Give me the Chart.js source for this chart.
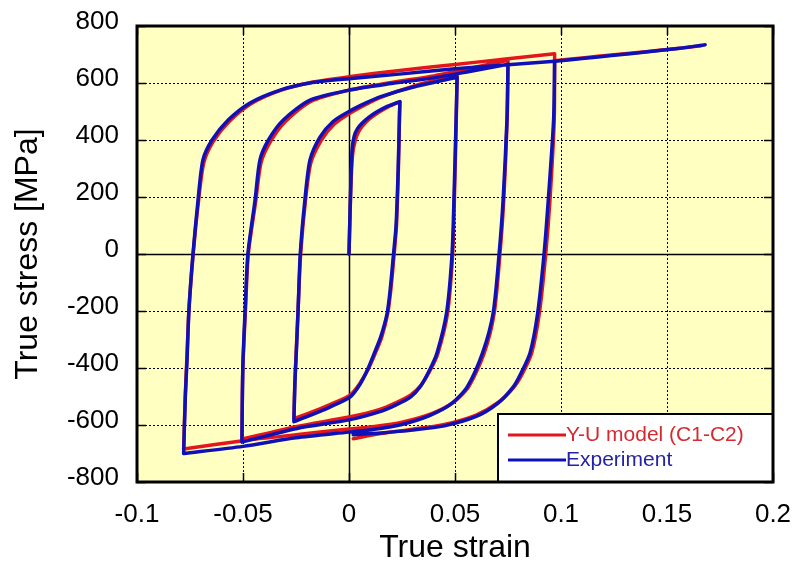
<!DOCTYPE html>
<html><head><meta charset="utf-8">
<script src="https://cdn.jsdelivr.net/npm/chart.js@4/dist/chart.umd.min.js"></script>
<style>html,body{margin:0;padding:0;background:#fff;}</style>
</head><body>
<canvas id="c" width="796" height="566" style="width:796px;height:566px;display:block"></canvas>
<script>
// ---- tick labels & names ----
const xTickLabels = ['-0.1','-0.05','0','0.05','0.1','0.15','0.2'];
const yTickLabels = ['-800','-600','-400','-200','0','200','400','600','800'];
const seriesNames = ['Y-U model (C1-C2)', 'Experiment'];
const xTitle = 'True strain';
const yTitle = 'True stress [MPa]';

// ---- Experiment: [true strain, true stress MPa]; reversal points listed twice (sharp corners) ----
const experimentCycle = [
  [0,0],[0.0005,150],[0.001,280],[0.0015,370],[0.0025,415],[0.004,440],[0.006,458],[0.009,478],[0.013,498],[0.018,518],[0.024,535],[0.024,535],
  [0.0238,480],[0.0232,300],[0.0222,100],[0.021,0],[0.0195,-120],[0.018,-207],[0.015,-290],[0.012,-347],[0.0085,-410],[0.005,-460],[0.0005,-502],[-0.009,-537],[-0.018,-565],[-0.026,-588],[-0.026,-588],
  [-0.0255,-450],[-0.025,-370],[-0.024,-196],[-0.023,0],[-0.0208,190],[-0.0184,330],[-0.0137,410],[-0.0075,465],[0.0,500],[0.008,530],[0.015,552],[0.03,585],[0.051,620],[0.051,620],
  [0.0505,470],[0.0495,190],[0.0486,0],[0.046,-207],[0.0415,-347],[0.038,-407],[0.0335,-467],[0.029,-502],[0.022,-530],[0.0146,-553],[0.0,-582],[-0.0245,-612],[-0.0505,-660],[-0.0505,-660],
  [-0.0503,-500],[-0.050,-372],[-0.049,-196],[-0.0477,0],[-0.0443,190],[-0.042,330],[-0.038,400],[-0.031,470],[-0.0184,540],[0.0,575],[0.02,598],[0.04,618],[0.055,638],[0.075,666],[0.075,666],
  [0.0745,470],[0.0727,190],[0.0708,0],[0.068,-207],[0.063,-347],[0.0557,-467],[0.048,-527],[0.038,-567],[0.025,-598],[0.012,-615],[0.0,-625],[-0.025,-645],[-0.05,-675],[-0.078,-700],[-0.078,-700],
  [-0.0772,-500],[-0.0764,-372],[-0.0755,-196],[-0.0736,0],[-0.0712,190],[-0.0689,330],[-0.0646,400],[-0.057,470],[-0.0467,530],[-0.0325,575],[-0.0184,600],[0.0,615],[0.025,632],[0.05,650],[0.075,664],[0.097,676],[0.097,676],
  [0.0965,470],[0.094,190],[0.092,0],[0.089,-207],[0.0854,-347],[0.081,-420],[0.0774,-467],[0.070,-525],[0.06,-570],[0.045,-603],[0.03,-618],[0.015,-628],[0.002,-634]
];
const experimentTail = [[0.097,676],[0.11,686],[0.125,697],[0.14,709],[0.155,721],[0.168,734]];

// ---- Y-U model (C1-C2) ----
const modelCycle = [
  [0,0],[0.0005,140],[0.001,260],[0.0017,350],[0.003,400],[0.0045,428],[0.0065,450],[0.0095,473],[0.0135,495],[0.0185,516],[0.024,534],[0.024,534],
  [0.0238,480],[0.0233,300],[0.0224,100],[0.0213,0],[0.0198,-120],[0.0183,-207],[0.0155,-290],[0.0125,-347],[0.009,-405],[0.005,-455],[0.0005,-495],[-0.009,-528],[-0.018,-556],[-0.026,-578],[-0.026,-578],
  [-0.0255,-440],[-0.025,-360],[-0.024,-190],[-0.0228,0],[-0.0205,190],[-0.018,320],[-0.013,400],[-0.007,455],[0.0,492],[0.008,525],[0.015,550],[0.03,588],[0.051,630],[0.051,630],
  [0.0506,470],[0.0497,190],[0.0489,0],[0.0465,-207],[0.042,-347],[0.0385,-405],[0.034,-460],[0.029,-495],[0.022,-522],[0.0146,-545],[0.0,-572],[-0.0245,-605],[-0.0505,-650],[-0.0505,-650],
  [-0.0503,-490],[-0.0499,-365],[-0.0488,-190],[-0.0475,0],[-0.044,185],[-0.0415,320],[-0.037,395],[-0.03,465],[-0.018,535],[0.0,575],[0.02,602],[0.04,625],[0.055,648],[0.075,680],[0.075,680],
  [0.0746,470],[0.073,190],[0.0712,0],[0.0685,-207],[0.0638,-347],[0.0565,-465],[0.049,-522],[0.039,-560],[0.025,-590],[0.012,-605],[0.0,-614],[-0.025,-634],[-0.05,-655],[-0.078,-684],[-0.078,-684],
  [-0.0772,-490],[-0.0765,-372],[-0.0755,-196],[-0.0735,0],[-0.071,185],[-0.0685,320],[-0.064,395],[-0.0565,465],[-0.046,528],[-0.032,575],[-0.018,602],[0.0,622],[0.025,645],[0.05,665],[0.075,685],[0.097,703],[0.097,703],
  [0.0968,470],[0.0948,190],[0.0928,0],[0.0898,-207],[0.0862,-347],[0.0818,-420],[0.078,-465],[0.0705,-520],[0.06,-565],[0.045,-598],[0.03,-615],[0.015,-630],[0.002,-648]
];
const modelTail = [[0.097,678],[0.11,688],[0.125,699],[0.14,710],[0.155,721],[0.166,731]];

const RED = '#E3161C', BLUE = '#1010B8';
const toXY = arr => arr.map(p => ({x: p[0], y: p[1]}));
const FONT = '"Liberation Sans", Arial, sans-serif';

function lineDs(data, color, order) {
  return {data: toXY(data), borderColor: color, backgroundColor: color, borderWidth: 3.5,
    showLine: true, pointRadius: 0, tension: 0.25, order: order, clip: false,
    borderJoinStyle: 'round', borderCapStyle: 'round'};
}

const framePlugin = {
  id: 'frame',
  beforeDraw(chart) {
    const {ctx, chartArea: a} = chart;
    ctx.save();
    ctx.fillStyle = '#FFFFC2';
    ctx.fillRect(a.left, a.top, a.right - a.left, a.bottom - a.top);
    ctx.restore();
  },
  beforeDatasetsDraw(chart) {
    const {ctx, chartArea: a, scales: {x, y}} = chart;
    ctx.save();
    ctx.strokeStyle = '#000';
    ctx.lineWidth = 1.5;
    const x0 = Math.round(x.getPixelForValue(0)) + 0.5;
    const y0 = Math.round(y.getPixelForValue(0)) + 0.5;
    ctx.beginPath();
    ctx.moveTo(x0, a.top); ctx.lineTo(x0, a.bottom);
    ctx.moveTo(a.left, y0); ctx.lineTo(a.right, y0);
    ctx.stroke();
    ctx.beginPath();
    y.ticks.forEach(t => {
      const py = Math.round(y.getPixelForValue(t.value)) + 0.5;
      ctx.moveTo(a.left, py); ctx.lineTo(a.left + 9, py);
      ctx.moveTo(a.right, py); ctx.lineTo(a.right - 9, py);
    });
    x.ticks.forEach(t => {
      const px = Math.round(x.getPixelForValue(t.value)) + 0.5;
      ctx.moveTo(px, a.top); ctx.lineTo(px, a.top + 9);
      ctx.moveTo(px, a.bottom); ctx.lineTo(px, a.bottom - 9);
    });
    ctx.stroke();
    ctx.restore();
  },
  afterDatasetsDraw(chart) {
    const {ctx, chartArea: a} = chart;
    ctx.save();
    const lx = a.right - 275, ly = a.bottom - 68;
    ctx.fillStyle = '#fff';
    ctx.fillRect(lx, ly, a.right - lx, a.bottom - ly);
    ctx.strokeStyle = '#000';
    ctx.lineWidth = 2;
    ctx.strokeRect(lx, ly, a.right - lx, a.bottom - ly);
    const rows = [[seriesNames[0], RED, '#D42A30', 21], [seriesNames[1], BLUE, '#2323A6', 46]];
    rows.forEach(([txt, lc, tc, dy]) => {
      ctx.strokeStyle = lc; ctx.lineWidth = 3;
      ctx.beginPath(); ctx.moveTo(lx + 10, ly + dy); ctx.lineTo(lx + 68, ly + dy); ctx.stroke();
      ctx.fillStyle = tc;
      ctx.font = '21px ' + FONT;
      ctx.textBaseline = 'middle'; ctx.textAlign = 'left';
      ctx.fillText(txt, lx + 68, ly + dy);
    });
    ctx.strokeStyle = '#000';
    ctx.lineWidth = 3;
    ctx.strokeRect(a.left, a.top, a.right - a.left, a.bottom - a.top);
    ctx.restore();
  }
};

new Chart(document.getElementById('c'), {
  type: 'scatter',
  data: {
    datasets: [
      Object.assign(lineDs(experimentCycle, BLUE, 0), {label: seriesNames[1]}),
      Object.assign(lineDs(experimentTail, BLUE, 1), {label: seriesNames[1]}),
      Object.assign(lineDs(modelCycle, RED, 2), {label: seriesNames[0]}),
      Object.assign(lineDs(modelTail, RED, 3), {label: seriesNames[0]})
    ]
  },
  options: {
    responsive: false, animation: false, devicePixelRatio: 1,
    layout: {padding: {top: 26, right: 23, left: 0, bottom: 0}},
    plugins: {legend: {display: false}, tooltip: {enabled: false}},
    scales: {
      x: {
        type: 'linear', min: -0.1, max: 0.2,
        afterBuildTicks: s => { s.ticks = xTickLabels.map(t => ({value: parseFloat(t)})); },
        afterFit: s => { s.height = 84; s.paddingLeft = 0; s.paddingRight = 0; },
        ticks: {callback: (v, i) => xTickLabels[i], color: '#000', padding: 17,
          font: {family: FONT, size: 26}, maxRotation: 0, autoSkip: false},
        grid: {color: '#000', lineWidth: 1, drawTicks: false},
        border: {display: false, dash: [2, 2]},
        title: {display: true, text: xTitle, color: '#000', font: {family: FONT, size: 32, lineHeight: 1.1}, padding: {top: 0, bottom: 0}}
      },
      y: {
        type: 'linear', min: -800, max: 800,
        afterBuildTicks: s => { s.ticks = yTickLabels.map(t => ({value: parseFloat(t)})); },
        afterFit: s => { s.width = 137; s.paddingTop = 0; s.paddingBottom = 0; },
        ticks: {callback: (v, i) => yTickLabels[i], color: '#000', padding: 18, labelOffset: -4,
          font: {family: FONT, size: 26}, autoSkip: false},
        grid: {color: '#000', lineWidth: 1, drawTicks: false},
        border: {display: false, dash: [2, 2]},
        title: {display: true, text: yTitle, color: '#000', font: {family: FONT, size: 32, lineHeight: 1.1}, padding: {top: 11, bottom: 0}}
      }
    }
  },
  plugins: [framePlugin]
});
</script>
</body></html>
